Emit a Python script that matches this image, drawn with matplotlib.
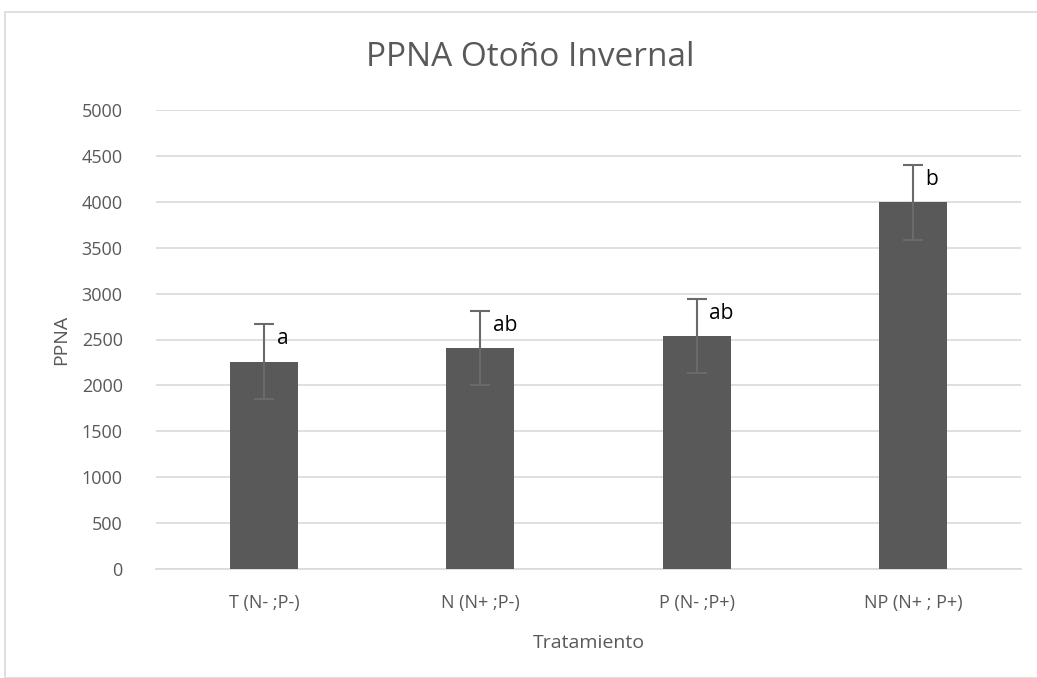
import matplotlib
matplotlib.use("Agg")
import matplotlib.pyplot as plt
from matplotlib.patches import Rectangle

categories = ["T (N- ;P-)", "N (N+ ;P-)", "P (N- ;P+)", "NP (N+ ; P+)"]
values = [2258, 2410, 2540, 3995]
errors = [410, 405, 405, 408]
letters = ["a", "ab", "ab", "b"]
yticks = [0, 500, 1000, 1500, 2000, 2500, 3000, 3500, 4000, 4500, 5000]

plt.rcParams['font.family'] = ['Open Sans', 'DejaVu Sans']
gray = "#595959"

fig = plt.figure(figsize=(10.37, 6.78), dpi=100)
fig.patches.append(Rectangle((5/1037, 0), 1.0, 1 - 12/678, transform=fig.transFigure,
                             fill=False, edgecolor="#d9d9d9", linewidth=1.2))
ax = fig.add_axes([156/1037, 1 - 569/678, (1021-156)/1037, (569-110)/678])

x = list(range(len(categories)))
ax.bar(x, values, width=0.315, color="#595959", zorder=3)
ax.errorbar(x, values, yerr=errors, fmt="none", ecolor="#6a6a6a", elinewidth=1.5,
            capsize=7, capthick=1.5, zorder=4)
for xi, v, e, t in zip(x, values, errors, letters):
    ax.annotate(t, (xi, v + e), xytext=(9, -3), textcoords="offset points",
                ha="left", va="top", fontsize=15, color="black")

ax.set_ylim(0, 5000)
ax.set_xlim(-0.5, 3.5)
ax.set_yticks(yticks)
ax.set_xticks(x)
ax.set_xticklabels(categories)
ax.yaxis.grid(True, color="#d9d9d9", linewidth=1.2, zorder=0)
ax.set_axisbelow(True)
for s in ["top", "right", "left"]:
    ax.spines[s].set_visible(False)
ax.spines["bottom"].set_color("#d9d9d9")
ax.spines["bottom"].set_linewidth(1.2)
ax.tick_params(axis="both", length=0, labelcolor=gray, labelsize=13)
ax.tick_params(axis="y", pad=24)
ax.tick_params(axis="x", pad=18)

ax.set_ylabel("PPNA", color=gray, fontsize=14, labelpad=8)
ax.set_xlabel("Tratamiento", color=gray, fontsize=14, labelpad=16)
fig.text(530/1037, 1 - 57/678, "PPNA Otoño Invernal", ha="center", va="center",
         fontsize=24, color=gray)

fig.savefig("out.png", dpi=100)
